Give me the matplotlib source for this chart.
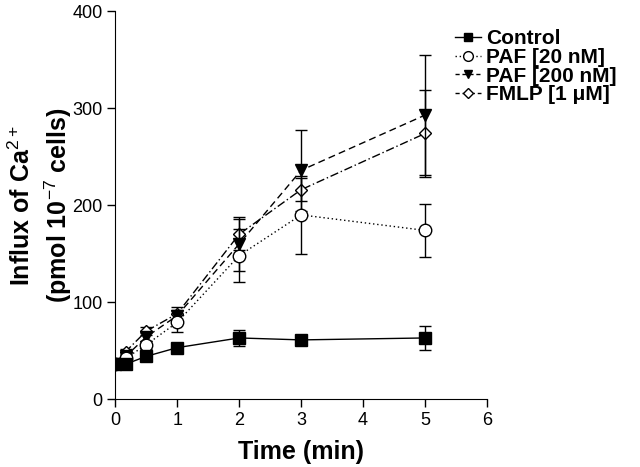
import matplotlib.pyplot as plt
from matplotlib.lines import Line2D

plt.rcParams['font.family'] = ['Liberation Sans', 'DejaVu Sans']
plt.rcParams['mathtext.fontset'] = 'custom'
plt.rcParams['mathtext.rm'] = 'Liberation Sans'
plt.rcParams['mathtext.bf'] = 'Liberation Sans:bold'

# ======== data ========
time = [0, 0.17, 0.5, 1, 2, 3, 5]

control = [36, 36, 44, 53, 63, 61, 63]
control_err = [4, 3, 3, 3, 8, 3, 12]

paf20 = [36, 42, 56, 79, 148, 190, 174]
paf20_err = [3, 3, 4, 10, 27, 40, 27]

paf200 = [36, 44, 64, 86, 160, 236, 293]
paf200_err = [3, 3, 4, 6, 28, 42, 62]

fmlp = [36, 49, 70, 88, 170, 216, 274]
fmlp_err = [3, 3, 4, 7, 16, 12, 45]

labels = ["Control", "PAF [20 nM]", "PAF [200 nM]", "FMLP [1 \u03bcM]"]

# ======== plot ========
fig = plt.figure(figsize=(6.4, 4.67), dpi=100)
ax = fig.add_axes([0.18, 0.1456, 0.581, 0.83])

common = dict(color="black", ecolor="black", elinewidth=1, capsize=4, capthick=1, lw=1)
ax.errorbar(time, fmlp, yerr=fmlp_err, fmt="D", ls=(0, (6, 2, 1, 2)), mfc="white",
            mec="black", ms=6, zorder=3, **common)
ax.errorbar(time, paf200, yerr=paf200_err, fmt="v", ls=(0, (5, 3)), mfc="black",
            ms=8, zorder=4, **common)
ax.errorbar(time, paf20, yerr=paf20_err, fmt="o", ls=(0, (1, 2)), mfc="white",
            mec="black", ms=9, zorder=5, **common)
ax.errorbar(time, control, yerr=control_err, fmt="s", ls="-", mfc="black",
            ms=8, zorder=6, **common)

ax.set_xlim(0, 6)
ax.set_ylim(0, 400)
ax.set_xticks(range(0, 7))
ax.set_yticks([0, 100, 200, 300, 400])
ax.tick_params(direction="out", length=6, width=1, labelsize=13, pad=3)
ax.spines["top"].set_visible(False)
ax.spines["right"].set_visible(False)

ax.set_xlabel("Time (min)", fontsize=18, fontweight="bold", labelpad=8)
ax.set_ylabel("Influx of Ca$^{2+}$\n(pmol 10$^{-7}$ cells)",
              fontsize=18, fontweight="bold", linespacing=1.3)
ax.yaxis.set_label_coords(-0.112, 0.5)

handles = [
    Line2D([], [], color="black", ls="-", marker="s", ms=6, lw=1),
    Line2D([], [], color="black", ls=(0, (1, 2)), marker="o", mfc="white", ms=7, lw=1),
    Line2D([], [], color="black", ls=(0, (3, 2)), marker="v", ms=6, lw=1),
    Line2D([], [], color="black", ls=(0, (3, 2, 1, 2)), marker="D", mfc="white", ms=5, lw=1),
]
fig.legend(handles, labels, loc="upper left", bbox_to_anchor=(0.698, 0.955),
           frameon=False, prop=dict(weight="bold", size=15), handlelength=1.25,
           handletextpad=0.25, labelspacing=-0.02, borderaxespad=0)

fig.savefig("out.png", dpi=100)
